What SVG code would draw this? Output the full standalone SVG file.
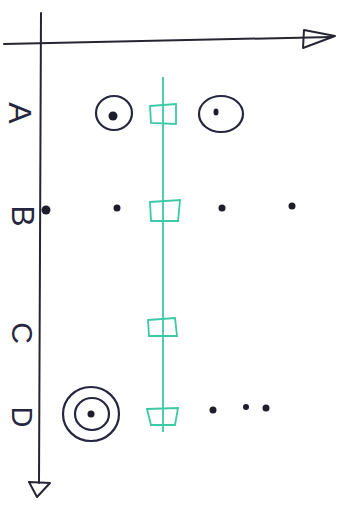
<svg xmlns="http://www.w3.org/2000/svg" width="344" height="517" viewBox="0 0 344 517">
<defs>
<style>
.ax{stroke:#262633;stroke-width:2;fill:none;stroke-linecap:round;stroke-linejoin:round}
.ink{stroke:#262640;stroke-width:2.2;fill:none}
.dot{fill:#1e1e2a}
.gr{stroke:#3cc9a6;stroke-width:1.8;fill:none}
.lbl{font-family:"Liberation Sans",Arial,sans-serif;fill:#262640;text-anchor:middle;dominant-baseline:central}
</style>
</defs>
<rect width="344" height="517" fill="#ffffff"/>
<g id="connectors">
<path class="ax" d="M4 44 L332 37"/>
<path class="ax" d="M304 30 L335 36 L303 48 Z"/>
<path class="ax" d="M41 13 L39 483"/>
<path class="ax" d="M29 482 L50 483 L37 497 Z"/>
<path class="gr" d="M163 77 L163 432"/>
</g>
<g id="label-A"><text class="lbl" font-size="32" transform="translate(20 113) rotate(90)">A</text></g>
<g id="label-B"><text class="lbl" font-size="32" transform="translate(23 216) rotate(90)">B</text></g>
<g id="label-C"><text class="lbl" font-size="30" transform="translate(22 333) rotate(90)">C</text></g>
<g id="label-D"><text class="lbl" font-size="29" transform="translate(22 417) rotate(90)">D</text></g>
<g id="box-A"><path class="gr" d="M150 106 L176 104 L176 124 L151 123 Z"/></g>
<g id="box-B"><path class="gr" d="M150 202 L180 200 L178 221 L151 221 Z"/></g>
<g id="box-C"><path class="gr" d="M148 320 L175 318 L177 336 L149 336 Z"/></g>
<g id="box-D"><path class="gr" d="M147 409 L178 408 L175 425 L151 425 Z"/></g>
<g id="circle-A1"><ellipse class="ink" cx="114" cy="113" rx="18" ry="17"/><ellipse class="dot" cx="113" cy="116" rx="4.5" ry="4.5"/></g>
<g id="circle-A2"><ellipse class="ink" cx="221" cy="114" rx="22" ry="18"/><ellipse class="dot" cx="216" cy="112" rx="2.5" ry="3.5"/></g>
<g id="dots-B">
<circle class="dot" cx="46" cy="210" r="4.5"/>
<circle class="dot" cx="117" cy="208" r="3.5"/>
<circle class="dot" cx="222" cy="208" r="3.5"/>
<circle class="dot" cx="292" cy="206" r="3.5"/>
</g>
<g id="circle-D"><ellipse class="ink" cx="91" cy="414" rx="28" ry="27"/><ellipse class="ink" cx="92" cy="414" rx="17" ry="16"/><circle class="dot" cx="91" cy="414" r="3.5"/></g>
<g id="dots-D">
<circle class="dot" cx="213" cy="410" r="3.5"/>
<circle class="dot" cx="246" cy="407" r="3"/>
<circle class="dot" cx="266" cy="408" r="3.5"/>
</g>
</svg>
